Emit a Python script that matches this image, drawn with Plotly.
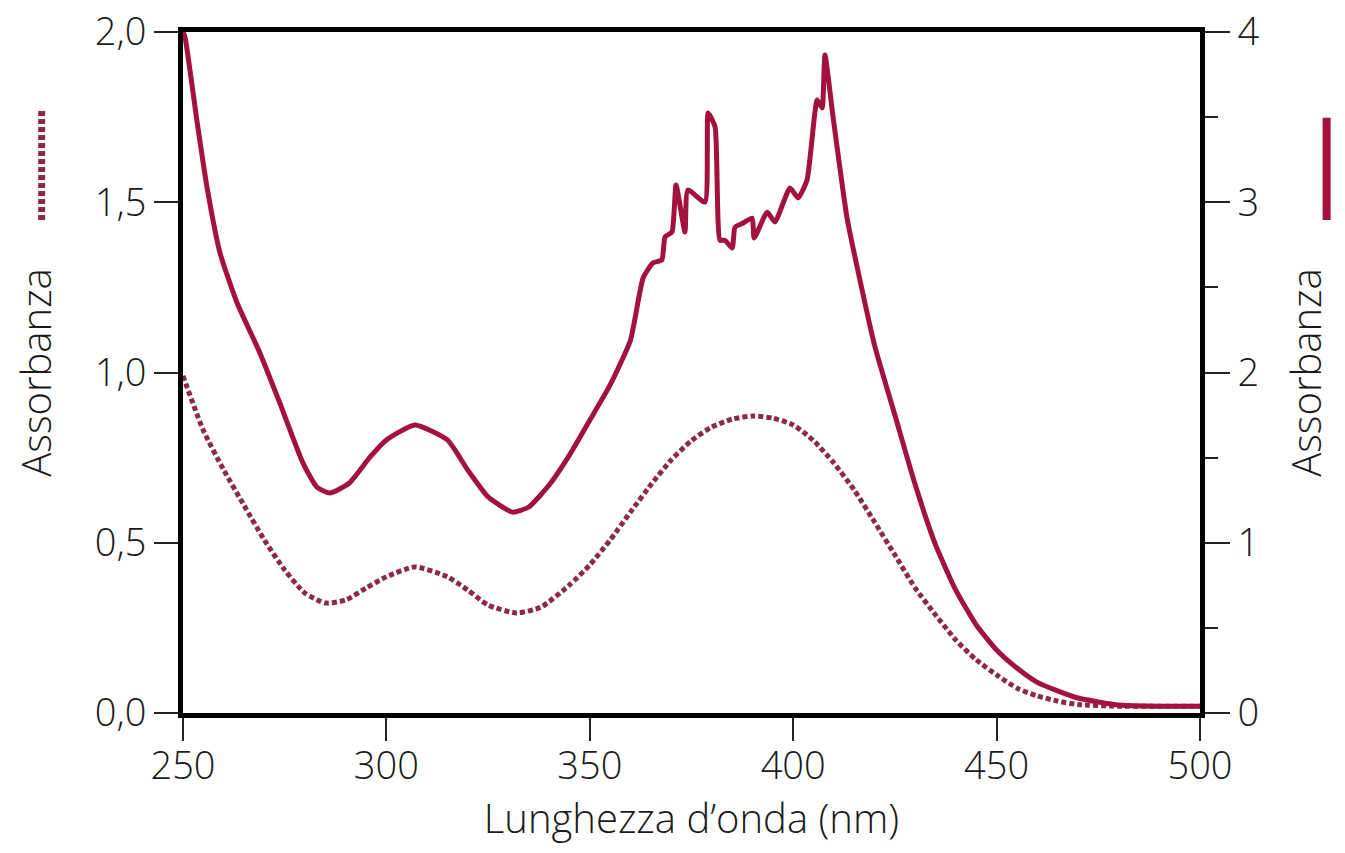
import plotly.graph_objects as go

# Solid curve (right axis, 0-4)
wl_solid = [250, 250.5, 253.4, 255.9, 259.1, 263.3, 268.9, 273.8, 279.5, 282.9, 286.1, 290.9, 296.0,
            300, 307, 315, 320, 325, 331, 335, 340, 345, 350, 355, 360,
            363.1, 365.5, 367.7, 368.5, 370.2, 371.2, 373.4, 374.1, 378.3, 379.1, 380.8, 382.0, 383.2,
            385.0, 385.7, 387.7, 389.9, 390.4, 393.6, 395.5, 399.2, 401.2, 403.4, 405.9, 407.1, 407.8,
            409.8, 413.2, 416.4, 420, 425, 430, 435, 440, 445, 450, 455, 460, 465, 470, 475, 480, 490, 500]
abs_solid = [4.0, 3.97, 3.483, 3.089, 2.702, 2.408, 2.115, 1.821, 1.468, 1.327, 1.292, 1.351, 1.504,
             1.604, 1.692, 1.604, 1.427, 1.269, 1.18, 1.21, 1.339, 1.515, 1.72, 1.927, 2.19,
             2.555, 2.643, 2.661, 2.796, 2.825, 3.101, 2.825, 3.072, 3.001, 3.524, 3.442, 2.777, 2.777,
             2.731, 2.854, 2.878, 2.907, 2.790, 2.942, 2.884, 3.084, 3.025, 3.131, 3.601, 3.554, 3.865,
             3.501, 2.913, 2.543, 2.16, 1.75, 1.34, 0.987, 0.72, 0.517, 0.37, 0.264, 0.18, 0.13, 0.088,
             0.065, 0.047, 0.04, 0.04]

# Dotted curve (left axis, 0-2)
wl_dot = [250, 255, 260, 265, 270, 275, 280, 285, 290, 295, 300, 307, 315, 320, 325, 332, 338, 345,
          350, 355, 360, 365, 370, 375, 380, 385, 390, 395, 400, 405, 410, 415, 420, 425, 430, 435,
          440, 445, 450, 455, 460, 465, 470, 480, 490, 500]
abs_dot = [0.99, 0.83, 0.714, 0.61, 0.508, 0.42, 0.352, 0.323, 0.332, 0.367, 0.40, 0.429, 0.40, 0.361,
           0.317, 0.294, 0.311, 0.376, 0.435, 0.508, 0.59, 0.67, 0.743, 0.80, 0.84, 0.863, 0.872, 0.866,
           0.846, 0.80, 0.734, 0.655, 0.561, 0.464, 0.367, 0.288, 0.214, 0.156, 0.112, 0.073, 0.05,
           0.035, 0.025, 0.02, 0.02, 0.02]

x_ticks = [250, 300, 350, 400, 450, 500]
left_ticks = [0, 0.5, 1.0, 1.5, 2.0]
left_labels = ["0,0", "0,5", "1,0", "1,5", "2,0"]
right_ticks = [0, 1, 2, 3, 4]
right_labels = ["0", "1", "2", "3", "4"]

SOLID = "#A3113F"
DOT = "#8C2848"
FONT = "Open Sans"
TXT = "#1a1a1a"

fig = go.Figure()
fig.add_trace(go.Scatter(x=wl_dot, y=abs_dot, mode="lines", yaxis="y",
                         line=dict(color=DOT, width=5, dash="5px,3px", shape="spline", smoothing=0.6),
                         showlegend=False))
fig.add_trace(go.Scatter(x=wl_solid, y=abs_solid, mode="lines", yaxis="y2",
                         line=dict(color=SOLID, width=5, shape="spline", smoothing=0.5),
                         showlegend=False))

fig.update_layout(
    width=1345, height=853,
    margin=dict(l=175, r=153, t=24, b=148),
    paper_bgcolor="white", plot_bgcolor="white",
    font=dict(family=FONT, size=38, color=TXT, weight=300),
    xaxis=dict(range=[250, 500], tickvals=x_ticks, ticks="outside", ticklen=23, tickwidth=1.5,
               tickcolor="#222", showline=True, linewidth=5, linecolor="black", mirror=True,
               showgrid=False, zeroline=False, automargin=False, ticklabelstandoff=-8,
               ticklabeloverflow="allow",
               title=dict(text="Lunghezza d’onda (nm)", font=dict(size=40, weight=300), standoff=8)),
    yaxis=dict(range=[0, 2], tickvals=left_ticks, ticktext=left_labels, ticks="outside",
               ticklen=24, tickwidth=1.5, tickcolor="#222", showline=True, linewidth=5,
               linecolor="black", showgrid=False, zeroline=False, automargin=False,
               ticklabeloverflow="allow",
               title=dict(text="Assorbanza", font=dict(size=40, weight=300), standoff=36)),
    yaxis2=dict(range=[0, 4], overlaying="y", side="right", tickvals=right_ticks,
                ticktext=right_labels, ticks="outside", ticklen=25, tickwidth=1.5, tickcolor="#222",
                minor=dict(tickvals=[0.5, 1.5, 2.5, 3.5], ticks="outside", ticklen=13,
                           tickwidth=1.5, tickcolor="#222"),
                showline=True, linewidth=5, linecolor="black", showgrid=False, zeroline=False,
                automargin=False, ticklabeloverflow="allow",
                title=dict(text="Assorbanza", font=dict(size=40, weight=300), standoff=36)),
    shapes=[
        dict(type="line", xref="paper", yref="paper", x0=-0.139, x1=-0.139, y0=0.724, y1=0.885,
             line=dict(color=DOT, width=7, dash="5px,3px")),
        dict(type="line", xref="paper", yref="paper", x0=1.1245, x1=1.1245, y0=0.724, y1=0.874,
             line=dict(color=SOLID, width=8)),
    ],
)

fig.write_html("out.html")
